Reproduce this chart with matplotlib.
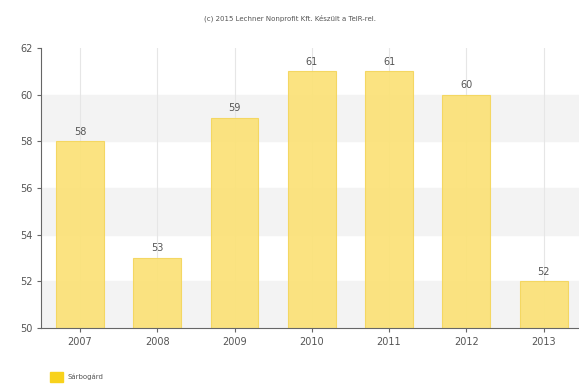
import matplotlib
matplotlib.use("Agg")
import matplotlib.pyplot as plt
from matplotlib.patches import Rectangle

years = ["2007", "2008", "2009", "2010", "2011", "2012", "2013"]
values = [58, 53, 59, 61, 61, 60, 52]
series_name = "Sárbogárd"
title = "(c) 2015 Lechner Nonprofit Kft. Készült a TeIR-rel."

BAR = "#FBE27A"
EDGE = "#F4D65E"
TXT = "#555555"

plt.rcParams.update({"font.family": "DejaVu Sans", "font.size": 7})

fig = plt.figure(figsize=(5.79, 3.85), dpi=100)
# the plot area runs slightly past the right edge, as in the original
ax = fig.add_axes([0.0715, 0.148, 0.934, 0.727])

x = range(len(years))
ax.set_xlim(-0.5, len(years) - 0.5)
ax.set_ylim(50, 62)

# alternating bands + vertical grid at the ticks
for lo in (50, 54, 58):
    ax.axhspan(lo, lo + 2, color="#F3F3F3", zorder=0)
for i in x:
    ax.axvline(i, color="#E6E6E6", lw=0.8, zorder=0)

ax.bar(list(x), values, width=0.62, color=BAR, edgecolor=EDGE, lw=0.8, alpha=0.95, zorder=2)
for i, v in zip(x, values):
    ax.text(i, v + 0.2, str(v), ha="center", va="bottom", fontsize=7, color=TXT)

ax.set_xticks(list(x))
ax.set_xticklabels(years)
ax.set_yticks(range(50, 63, 2))
ax.tick_params(colors=TXT, labelsize=7, length=3, color="#666666")
for s in ("top", "right"):
    ax.spines[s].set_visible(False)
for s in ("left", "bottom"):
    ax.spines[s].set_color("#666666")

fig.text(0.5, 0.953, title, ha="center", va="center", fontsize=5, color=TXT)

# legend
fig.patches.append(Rectangle((50 / 579, 1 - 382 / 385), 13 / 579, 10 / 385,
                             transform=fig.transFigure, color="#F8D21C", figure=fig))
fig.text(68 / 579, 1 - 377 / 385, series_name, ha="left", va="center", fontsize=5, color=TXT)

fig.savefig("out.png", dpi=100)
